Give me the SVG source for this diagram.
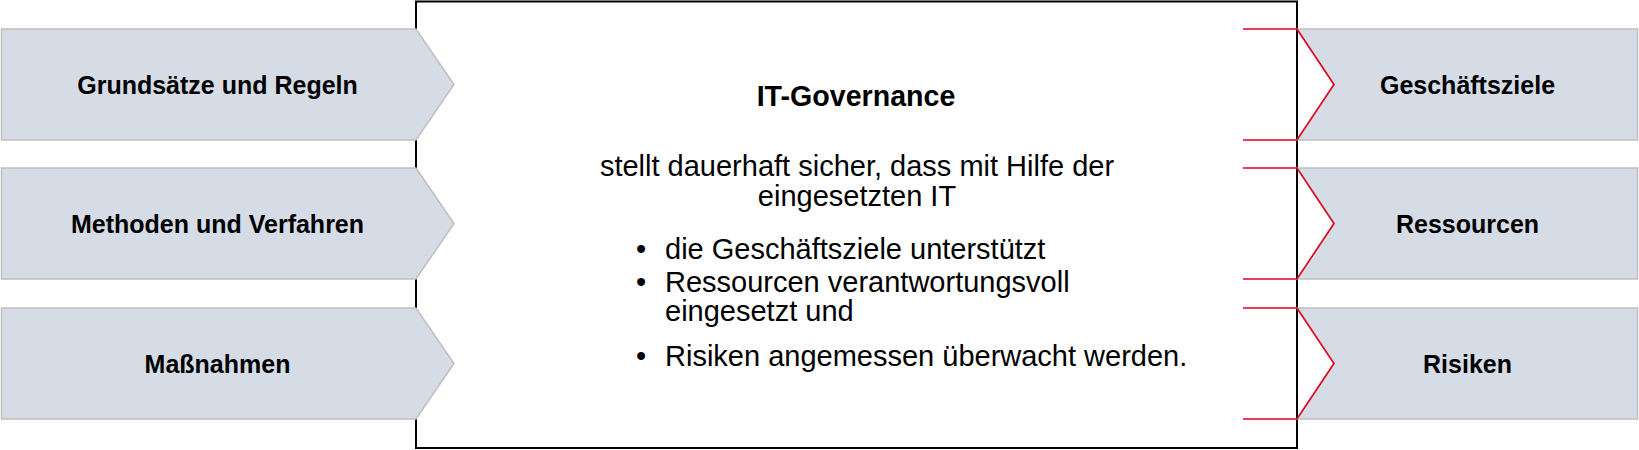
<svg xmlns="http://www.w3.org/2000/svg" width="1639" height="450" viewBox="0 0 1639 450">
<style>
.shape{fill:#D6DCE5;stroke:#BFBFBF;stroke-width:1.5}
.lbl{font-family:"Liberation Sans",Arial,sans-serif;font-weight:bold;font-size:25px;fill:#000;text-anchor:middle}
.body{font-family:"Liberation Sans",Arial,sans-serif;font-size:29px;fill:#000}
.bul{font-family:"Liberation Sans",Arial,sans-serif;font-size:29px;fill:#000}
.title{font-family:"Liberation Sans",Arial,sans-serif;font-weight:bold;font-size:28.6px;fill:#000;text-anchor:middle}
.red{fill:none;stroke:#E2001A;stroke-width:1.6}
</style>
<rect width="1639" height="450" fill="#fff"/>
<g id="governance">
<rect x="416" y="1.5" width="881" height="446.5" fill="#fff" stroke="#000" stroke-width="2"/>
<text class="title" x="856" y="106">IT-Governance</text>
<text class="body" x="857" y="176" text-anchor="middle">stellt dauerhaft sicher, dass mit Hilfe der</text>
<text class="body" x="857" y="206" text-anchor="middle">eingesetzten IT</text>
<text class="bul" x="636" y="259">•</text>
<text class="body" x="665" y="259">die Geschäftsziele unterstützt</text>
<text class="bul" x="636" y="292">•</text>
<text class="body" x="665" y="292">Ressourcen verantwortungsvoll</text>
<text class="body" x="665" y="321">eingesetzt und</text>
<text class="bul" x="636" y="366">•</text>
<text class="body" x="665" y="366">Risiken angemessen überwacht werden.</text>
</g>
<g id="grundsaetze">
<path class="shape" d="M1.5,29 H416 L454,84.5 L416,140 H1.5 Z"/>
<text class="lbl" x="217.5" y="93.5">Grundsätze und Regeln</text>
</g>
<g id="methoden">
<path class="shape" d="M1.5,168 H416 L454,223.5 L416,279 H1.5 Z"/>
<text class="lbl" x="217.5" y="232.5">Methoden und Verfahren</text>
</g>
<g id="massnahmen">
<path class="shape" d="M1.5,308 H416 L454,363.5 L416,419 H1.5 Z"/>
<text class="lbl" x="217.5" y="372.5">Maßnahmen</text>
</g>
<g id="geschaeftsziele">
<path class="shape" d="M1297,29 H1637.5 V140 H1297 L1334,84.5 Z"/>
<text class="lbl" x="1467.5" y="93.5">Geschäftsziele</text>
</g>
<g id="ressourcen">
<path class="shape" d="M1297,168 H1637.5 V279 H1297 L1334,223.5 Z"/>
<text class="lbl" x="1467.5" y="232.5">Ressourcen</text>
</g>
<g id="risiken">
<path class="shape" d="M1297,308 H1637.5 V419 H1297 L1334,363.5 Z"/>
<text class="lbl" x="1467.5" y="372.5">Risiken</text>
</g>
<g id="connectors">
<path class="red" d="M1243,29 H1297 L1334,84.5 L1297,140 H1243"/>
<path class="red" d="M1243,168 H1297 L1334,223.5 L1297,279 H1243"/>
<path class="red" d="M1243,308 H1297 L1334,363.5 L1297,419 H1243"/>
</g>
</svg>
